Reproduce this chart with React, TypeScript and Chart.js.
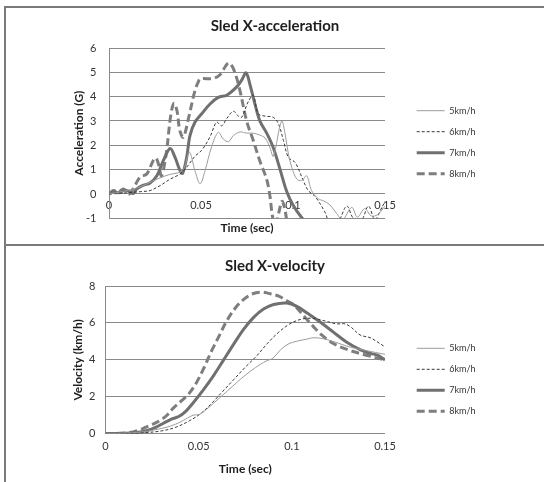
import React, { useEffect, useRef } from 'react';
import { Chart, registerables } from 'chart.js';

Chart.register(...registerables);

const SERIES_LABELS = ['5km/h', '6km/h', '7km/h', '8km/h'];

// ---------- Sled X-acceleration (G) ----------
const accel5T = [0, 0.004, 0.008, 0.013, 0.018, 0.0223, 0.0277, 0.033, 0.0386, 0.041, 0.0437, 0.0467, 0.0495, 0.0522, 0.0558, 0.0594, 0.0621, 0.0649, 0.0676, 0.0712, 0.0748, 0.0784, 0.082, 0.0848, 0.0875, 0.0893, 0.0938, 0.0957, 0.0975, 0.0993, 0.102, 0.1047, 0.1074, 0.1101, 0.1138, 0.1165, 0.1201, 0.1237, 0.127, 0.1319, 0.135, 0.139, 0.1425, 0.146, 0.15];
const accel5V = [0, 0.05, 0.12, 0.2, 0.32, 0.48, 0.66, 0.8, 0.9, 1.1, 1.72, 0.96, 0.42, 0.96, 1.95, 2.53, 2.26, 2.15, 2.4, 2.55, 2.5, 2.5, 2.42, 2.3, 1.9, 1.55, 3.0, 2.47, 1.64, 1.1, 0.62, 0.55, 0.75, 0.14, -0.2, -0.28, -0.45, -0.8, -1.05, -0.55, -0.95, -0.6, -0.9, -0.85, -0.5];

const accel6T = [0, 0.005, 0.01, 0.013, 0.018, 0.0223, 0.0277, 0.033, 0.0386, 0.0422, 0.0467, 0.0504, 0.0549, 0.0585, 0.0612, 0.064, 0.0676, 0.0703, 0.0721, 0.0757, 0.0784, 0.0811, 0.0848, 0.0893, 0.092, 0.0948, 0.0975, 0.1011, 0.1056, 0.1083, 0.112, 0.1174, 0.1195, 0.124, 0.1292, 0.1328, 0.137, 0.141, 0.1445, 0.148, 0.15];
const accel6V = [0, 0.02, 0.05, 0.07, 0.1, 0.14, 0.34, 0.6, 0.82, 1.1, 1.55, 1.8, 2.35, 2.95, 2.8, 3.1, 3.4, 3.2, 3.15, 3.8, 4.05, 3.3, 3.2, 3.15, 2.9, 2.2, 1.5, 1.3, 0.55, 0.14, -0.1, -0.75, -1.1, -1.2, -0.5, -1.0, -1.1, -0.5, -1.05, -0.6, -0.3];

const accel7T = [0, 0.0024, 0.005, 0.0087, 0.011, 0.0132, 0.015, 0.0187, 0.0223, 0.026, 0.0295, 0.0332, 0.0359, 0.0386, 0.04, 0.0422, 0.044, 0.0467, 0.0504, 0.0549, 0.0594, 0.064, 0.0694, 0.0721, 0.0745, 0.0766, 0.0793, 0.082, 0.0857, 0.0893, 0.093, 0.0966, 0.1, 0.105, 0.11, 0.12, 0.15];
const accel7V = [0, 0.1, 0.05, 0.15, 0.1, 0.02, 0.2, 0.36, 0.45, 0.75, 1.37, 1.87, 1.5, 0.96, 0.85, 1.5, 2.4, 2.95, 3.3, 3.7, 3.97, 4.06, 4.4, 4.68, 4.98, 4.5, 3.7, 3.0, 2.5, 1.9, 1.0, 0.1, -0.45, -1.0, -1.4, -1.8, -1.6];

const accel8T = [0, 0.0024, 0.005, 0.0078, 0.011, 0.014, 0.017, 0.0205, 0.024, 0.0255, 0.027, 0.0285, 0.031, 0.0335, 0.0353, 0.037, 0.0385, 0.0404, 0.0431, 0.0467, 0.0486, 0.0495, 0.0567, 0.0603, 0.0649, 0.0676, 0.071, 0.0748, 0.0784, 0.082, 0.0857, 0.0875, 0.0888, 0.0905, 0.0925, 0.094, 0.0955, 0.097, 0.1, 0.15];
const accel8V = [0, 0.14, 0.07, 0.2, 0.0, 0.34, 0.7, 0.82, 1.37, 1.48, 1.2, 0.75, 1.6, 3.2, 3.73, 3.4, 2.6, 2.33, 3.08, 4.25, 4.62, 4.73, 4.75, 4.9, 5.38, 5.15, 4.3, 3.0, 2.2, 1.35, 0.6, -0.1, -0.9, -1.3, -0.7, -0.3, -0.6, -1.2, -1.8, -1.8];

const accelYTicks = [-1, 0, 1, 2, 3, 4, 5, 6];
const timeTicks = [0, 0.05, 0.1, 0.15];
const timeTickLabels = ['0', '0.05', '0.1', '0.15'];

// ---------- Sled X-velocity (km/h) ----------
const vel5T = [0, 0.01, 0.02, 0.03, 0.035, 0.04, 0.044, 0.047, 0.0505, 0.054, 0.058, 0.063, 0.068, 0.073, 0.078, 0.083, 0.0866, 0.09, 0.094, 0.098, 0.103, 0.108, 0.112, 0.118, 0.125, 0.131, 0.14, 0.15];
const vel5V = [0, 0.03, 0.1, 0.28, 0.42, 0.62, 0.85, 1.0, 1.05, 1.3, 1.65, 2.1, 2.55, 3.0, 3.4, 3.75, 3.95, 4.1, 4.55, 4.85, 5.02, 5.12, 5.2, 5.12, 4.9, 4.7, 4.5, 4.3];

const vel6T = [0, 0.01, 0.02, 0.03, 0.038, 0.045, 0.051, 0.057, 0.063, 0.069, 0.075, 0.081, 0.087, 0.093, 0.099, 0.105, 0.111, 0.118, 0.124, 0.1285, 0.132, 0.1366, 0.142, 0.1455, 0.15];
const vel6V = [0, 0.01, 0.05, 0.15, 0.36, 0.7, 1.08, 1.65, 2.3, 2.95, 3.6, 4.2, 4.9, 5.5, 5.95, 6.2, 6.25, 6.1, 5.95, 5.95, 5.75, 5.35, 5.2, 5.0, 4.7];

const vel7T = [0, 0.0152, 0.0223, 0.0277, 0.0313, 0.0357, 0.0393, 0.0429, 0.0473, 0.0527, 0.058, 0.0634, 0.0688, 0.0741, 0.0795, 0.0848, 0.0902, 0.0973, 0.1027, 0.108, 0.1152, 0.1223, 0.1295, 0.1366, 0.142, 0.146, 0.15];
const vel7V = [0, 0.05, 0.17, 0.38, 0.58, 0.8, 0.93, 1.2, 1.7, 2.4, 3.15, 4.0, 4.85, 5.65, 6.3, 6.75, 7.0, 7.08, 6.9, 6.55, 6.05, 5.5, 4.95, 4.55, 4.35, 4.25, 4.0];

const vel8T = [0, 0.012, 0.018, 0.024, 0.029, 0.033, 0.0365, 0.041, 0.045, 0.049, 0.053, 0.057, 0.061, 0.065, 0.07, 0.0745, 0.079, 0.084, 0.0875, 0.093, 0.0973, 0.1009, 0.1045, 0.108, 0.1116, 0.116, 0.122, 0.13, 0.14, 0.15];
const vel8V = [0, 0.05, 0.2, 0.45, 0.7, 1.0, 1.4, 1.8, 2.2, 2.8, 3.6, 4.5, 5.3, 6.1, 6.85, 7.3, 7.58, 7.67, 7.6, 7.45, 7.2, 7.0, 6.6, 6.2, 5.8, 5.35, 4.9, 4.55, 4.25, 4.0];

const velYTicks = [0, 2, 4, 6, 8];

// ---------- styles ----------
const FONT = "Lato, 'Open Sans', sans-serif";
const GRID = '#8a8a8a';
const TEXT = '#333333';
const TITLE = '#1e1e1e';
const LEGEND_SIZE = 9;
const LEGEND_PAD = 12;
const LEGEND_LINE = 28;
const lineStyles = [
  { color: '#9c9c9c', width: 1, dash: [] as number[] },
  { color: '#3a3a3a', width: 1, dash: [3, 2] },
  { color: '#707070', width: 3, dash: [] as number[] },
  { color: '#7e7e7e', width: 3, dash: [8, 4] },
];

const toXY = (t: number[], v: number[]) => t.map((x, i) => ({ x, y: v[i] }));

function legendTextWidth(): number {
  const c = document.createElement('canvas').getContext('2d') as CanvasRenderingContext2D;
  c.font = `${LEGEND_SIZE}px ${FONT}`;
  return Math.max(...SERIES_LABELS.map((s) => c.measureText(s).width));
}

function makeDatasets(pairs: [number[], number[]][]) {
  return pairs.map(([t, v], i) => ({
    label: SERIES_LABELS[i],
    data: toXY(t, v),
    borderColor: lineStyles[i].color,
    backgroundColor: lineStyles[i].color,
    borderWidth: lineStyles[i].width,
    borderDash: lineStyles[i].dash,
    pointRadius: 0,
    tension: 0.35,
    fill: false,
    xAxisID: 'x',
    yAxisID: 'y',
  }));
}

function legendOptions(titlePad: number) {
  return {
    position: 'right',
    align: 'start',
    maxWidth: 300,
    title: { display: true, text: ' ', font: { family: FONT, size: 10 }, padding: titlePad },
    labels: {
      usePointStyle: true,
      pointStyle: 'line',
      pointStyleWidth: LEGEND_LINE,
      boxHeight: LEGEND_SIZE,
      padding: LEGEND_PAD,
      color: TEXT,
      font: { family: FONT, size: LEGEND_SIZE },
      generateLabels: (chart: any) =>
        chart.data.datasets.map((ds: any, i: number) => ({
          text: ds.label,
          fillStyle: ds.borderColor,
          strokeStyle: ds.borderColor,
          lineWidth: ds.borderWidth,
          lineDash: ds.borderDash,
          lineCap: 'butt',
          pointStyle: 'line',
          fontColor: TEXT,
          hidden: false,
          datasetIndex: i,
        })),
    },
  };
}

// canvas is 538 wide; legend box should start at x = 398.7
function outerRightWidth(): number {
  const legendW = LEGEND_PAD + LEGEND_LINE + LEGEND_SIZE / 2 + legendTextWidth() + 10;
  return Math.max(0, 538 - 398.7 - legendW);
}

function spacerAxis(width: number, weight: number) {
  return {
    type: 'linear',
    position: 'right',
    weight,
    min: 0,
    max: 1,
    grid: { display: false },
    border: { display: false },
    ticks: { display: false },
    afterFit: (s: any) => { s.width = width; },
  };
}

function accelConfig(): any {
  return {
    type: 'line',
    data: {
      datasets: makeDatasets([
        [accel5T, accel5V],
        [accel6T, accel6V],
        [accel7T, accel7V],
        [accel8T, accel8V],
      ]),
    },
    options: {
      responsive: false,
      animation: false,
      devicePixelRatio: 1,
      layout: { padding: 0 },
      plugins: {
        title: {
          display: true,
          text: 'Sled X-acceleration',
          color: TITLE,
          font: { family: FONT, size: 15, weight: 'bold' },
          padding: { top: 9, bottom: 13 },
        },
        legend: legendOptions(37.1),
        tooltip: { enabled: false },
      },
      scales: {
        x: {
          type: 'linear',
          min: 0,
          max: 0.15,
          position: { y: 0 },
          grid: { display: false, drawTicks: false },
          border: { display: false },
          afterBuildTicks: (s: any) => { s.ticks = timeTicks.map((value) => ({ value })); },
          ticks: {
            padding: 4.5,
            maxRotation: 0,
            autoSkip: false,
            color: TEXT,
            font: { family: FONT, size: 11 },
            callback: (_v: any, i: number) => timeTickLabels[i],
          },
        },
        x2: {
          type: 'linear',
          position: 'bottom',
          min: 0,
          max: 1,
          grid: { display: false, drawTicks: false },
          border: { display: false },
          ticks: { display: false },
          title: {
            display: true,
            text: 'Time (sec)',
            color: TITLE,
            font: { family: FONT, size: 12, weight: 'bold' },
            padding: { top: 0, bottom: 8.8 },
          },
          afterFit: (s: any) => { s.height = 25.7; },
        },
        y: {
          type: 'linear',
          min: -1,
          max: 6,
          position: 'left',
          afterBuildTicks: (s: any) => { s.ticks = accelYTicks.map((value) => ({ value })); },
          grid: { color: GRID, lineWidth: 1, drawTicks: false },
          border: { display: true, color: GRID, width: 1 },
          ticks: { padding: 12.5, color: TEXT, font: { family: FONT, size: 11 } },
          title: {
            display: true,
            text: 'Acceleration (G)',
            color: TITLE,
            font: { family: FONT, size: 12, weight: 'bold' },
            padding: { top: 65.8, bottom: 0 },
          },
          afterFit: (s: any) => { s.width = 103; },
        },
        y2: spacerAxis(19.7, 0),
        y3: spacerAxis(outerRightWidth(), 3000),
      },
    },
  };
}

function velConfig(): any {
  return {
    type: 'line',
    data: {
      datasets: makeDatasets([
        [vel5T, vel5V],
        [vel6T, vel6V],
        [vel7T, vel7V],
        [vel8T, vel8V],
      ]),
    },
    options: {
      responsive: false,
      animation: false,
      devicePixelRatio: 1,
      layout: { padding: 0 },
      plugins: {
        title: {
          display: true,
          text: 'Sled X-velocity',
          color: TITLE,
          font: { family: FONT, size: 15, weight: 'bold' },
          padding: { top: 11, bottom: 11 },
        },
        legend: legendOptions(36.9),
        tooltip: { enabled: false },
      },
      scales: {
        x: {
          type: 'linear',
          min: 0,
          max: 0.15,
          position: 'bottom',
          grid: { display: false, drawTicks: false },
          border: { display: false },
          afterBuildTicks: (s: any) => { s.ticks = timeTicks.map((value) => ({ value })); },
          ticks: {
            padding: 5.7,
            maxRotation: 0,
            autoSkip: false,
            color: TEXT,
            font: { family: FONT, size: 11 },
            callback: (_v: any, i: number) => timeTickLabels[i],
          },
          title: {
            display: true,
            text: 'Time (sec)',
            color: TITLE,
            font: { family: FONT, size: 12, weight: 'bold' },
            padding: { top: 0, bottom: 5.8 },
          },
          afterFit: (s: any) => { s.height = 48.3; },
        },
        y: {
          type: 'linear',
          min: 0,
          max: 8,
          position: 'left',
          afterBuildTicks: (s: any) => { s.ticks = velYTicks.map((value) => ({ value })); },
          grid: { color: GRID, lineWidth: 1, drawTicks: false },
          border: { display: true, color: GRID, width: 1 },
          ticks: { padding: 10, color: TEXT, font: { family: FONT, size: 11 } },
          title: {
            display: true,
            text: 'Velocity (km/h)',
            color: TITLE,
            font: { family: FONT, size: 12, weight: 'bold' },
            padding: { top: 64.8, bottom: 0 },
          },
          afterFit: (s: any) => { s.width = 99.5; },
        },
        y2: spacerAxis(19.7, 0),
        y3: spacerAxis(outerRightWidth(), 3000),
      },
    },
  };
}

function ChartCanvas(props: { make: () => any; left: number; top: number; width: number; height: number }) {
  const ref = useRef<HTMLCanvasElement>(null);
  useEffect(() => {
    const chart = new Chart(ref.current as HTMLCanvasElement, props.make());
    return () => chart.destroy();
  }, []);
  return (
    <canvas
      ref={ref}
      width={props.width}
      height={props.height}
      style={{ position: 'absolute', left: props.left, top: props.top, width: props.width, height: props.height }}
    />
  );
}

export default function App() {
  const border = '#7a7a7a';
  return (
    <div style={{ position: 'absolute', left: 0, top: 0, width: 544, height: 482, background: '#ffffff', overflow: 'hidden' }}>
      <ChartCanvas make={accelConfig} left={6} top={8} width={538} height={236} />
      <ChartCanvas make={velConfig} left={6} top={246} width={538} height={236} />
      <div style={{ position: 'absolute', left: 4, top: 6, width: 540, height: 2, background: border }} />
      <div style={{ position: 'absolute', left: 4, top: 6, width: 2, height: 476, background: border }} />
      <div style={{ position: 'absolute', left: 4, top: 244, width: 540, height: 2, background: border }} />
    </div>
  );
}
